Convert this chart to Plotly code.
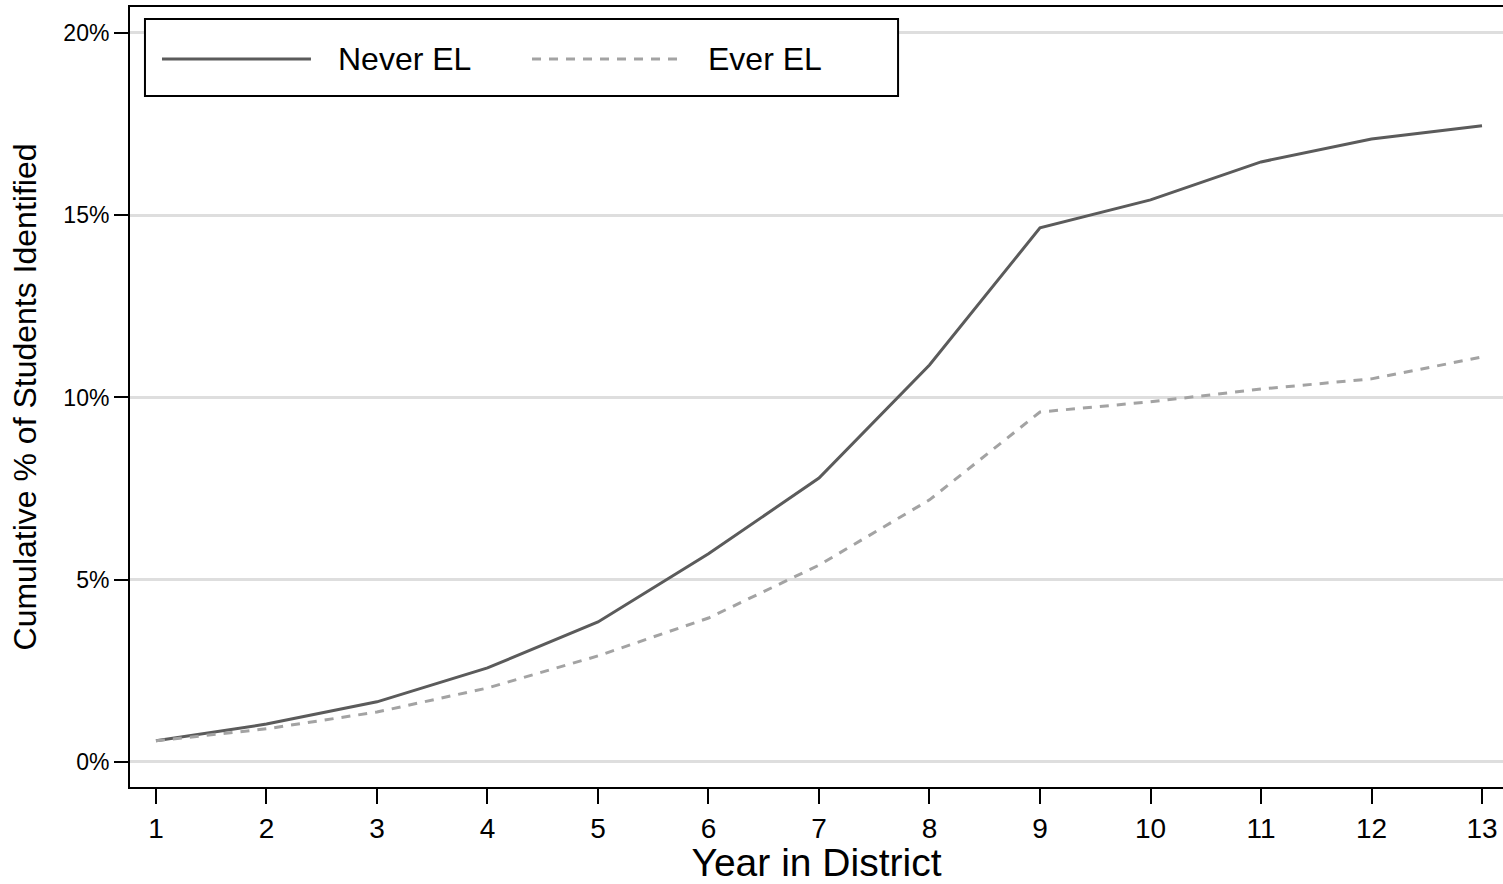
import plotly.graph_objects as go

years = list(range(1, 14))
never_el = [0.58, 1.04, 1.65, 2.58, 3.84, 5.71, 7.79, 10.89, 14.65, 15.42, 16.46, 17.09, 17.45]
ever_el = [0.58, 0.91, 1.37, 2.03, 2.91, 3.95, 5.40, 7.19, 9.60, 9.88, 10.23, 10.51, 11.11]
y_ticks = [0, 5, 10, 15, 20]
series_names = ["Never EL", "Ever EL"]

FONT = "Liberation Sans, Arial, Helvetica, sans-serif"
C_NEVER = "#5b5b5b"
C_EVER = "#a3a3a3"
DASH = "9px,8px"

fig = go.Figure()
fig.add_trace(go.Scatter(x=years, y=never_el, mode="lines", name=series_names[0],
                         line=dict(color=C_NEVER, width=3), showlegend=False))
fig.add_trace(go.Scatter(x=years, y=ever_el, mode="lines", name=series_names[1],
                         line=dict(color=C_EVER, width=3, dash=DASH), showlegend=False))

# legend box drawn manually to match long sample lines
fig.add_shape(type="rect", xref="paper", yref="paper", x0=0.0109, x1=0.5594, y0=0.8859, y1=0.9846,
              line=dict(color="black", width=2), fillcolor="white", layer="above")
fig.add_shape(type="line", xref="paper", yref="paper", x0=0.0233, x1=0.1318, y0=0.9333, y1=0.9333,
              line=dict(color=C_NEVER, width=3), layer="above")
fig.add_shape(type="line", xref="paper", yref="paper", x0=0.2928, x1=0.4006, y0=0.9333, y1=0.9333,
              line=dict(color=C_EVER, width=3, dash=DASH), layer="above")
fig.add_annotation(x=0.1500, y=0.9333, xref="paper", yref="paper", text=series_names[0],
                   showarrow=False, xanchor="left", yanchor="middle",
                   font=dict(family=FONT, size=32, color="black"))
fig.add_annotation(x=0.4195, y=0.9333, xref="paper", yref="paper", text=series_names[1],
                   showarrow=False, xanchor="left", yanchor="middle",
                   font=dict(family=FONT, size=32, color="black"))

fig.update_layout(
    width=1503, height=884,
    margin=dict(l=130, r=0, t=7, b=97, autoexpand=False),
    paper_bgcolor="white", plot_bgcolor="white",
    font=dict(family=FONT, color="black"),
    showlegend=False,
    xaxis=dict(
        range=[0.765, 13.19], tickmode="array", tickvals=years, ticktext=[str(y) for y in years],
        showgrid=False, zeroline=False, automargin=False,
        showline=True, linecolor="black", linewidth=2, mirror=True,
        ticks="outside", ticklen=15, tickwidth=2, tickcolor="black",
        tickfont=dict(size=28, family=FONT),
        title=dict(text="Year in District", font=dict(size=39, family=FONT), standoff=4),
    ),
    yaxis=dict(
        range=[-0.686, 20.71], tickmode="array", tickvals=y_ticks,
        ticktext=[f"{v}%" for v in y_ticks],
        showgrid=True, gridcolor="#dedede", gridwidth=3, zeroline=False, automargin=False,
        showline=True, linecolor="black", linewidth=2,
        ticks="outside", ticklen=14, tickwidth=2, tickcolor="black",
        tickfont=dict(size=23, family=FONT),
        title=dict(text="Cumulative % of Students Identified", font=dict(size=32, family=FONT), standoff=17),
    ),
)

fig.write_html("out.html", config={"displayModeBar": False},
               post_script="document.body.style.margin='0';")
